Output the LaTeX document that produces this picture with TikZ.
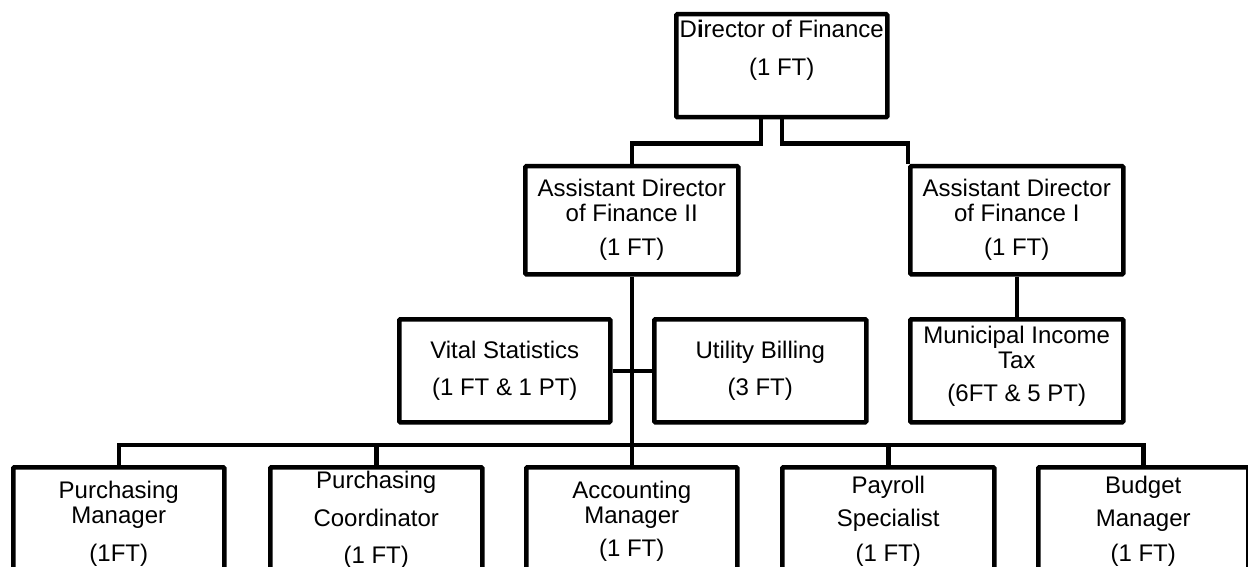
\documentclass[tikz,border=0pt]{standalone}
\usepackage{fontspec}
\setmainfont{Liberation Sans}

% box contents: height, width, top gap, lines
\newcommand\orgtext[4]{\parbox[t][#1][t]{#2}{\centering\vspace*{#3}#4}}

\begin{document}
\begin{tikzpicture}[x=1pt,y=-1pt,
  orgbox/.style={draw=black,line width=4.5pt,fill=white,inner sep=0pt,
    anchor=north west,rounded corners=1pt,
    font=\fontsize{24}{25}\selectfont},
  link/.style={draw=black,line width=4.5pt,line join=miter}]
\useasboundingbox (0,0) rectangle (1248,567);

% top level
\node[orgbox] (dir) at (674,12)
  {\orgtext{103pt}{211pt}{6pt}{D\textbf{i}rector of Finance\\[13pt](1 FT)}};

% assistant directors
\node[orgbox] (adf2) at (523,164)
  {\orgtext{108pt}{213pt}{13pt}{Assistant Director\\of Finance II\\[9pt](1 FT)}};
\node[orgbox] (adf1) at (908,164)
  {\orgtext{108pt}{213pt}{13pt}{Assistant Director\\of Finance I\\[9pt](1 FT)}};

% middle row
\node[orgbox] (vital) at (397,317)
  {\orgtext{103pt}{211pt}{22pt}{Vital Statistics\\[12pt](1 FT \& 1 PT)}};
\node[orgbox] (util) at (652,317)
  {\orgtext{103pt}{212pt}{22pt}{Utility Billing\\[12pt](3 FT)}};
\node[orgbox] (mit) at (908,317)
  {\orgtext{103pt}{213pt}{7pt}{Municipal Income\\Tax\\[8pt](6FT \& 5 PT)}};

% bottom row
\node[orgbox] (pm) at (11,465)
  {\orgtext{130pt}{211pt}{14pt}{Purchasing\\Manager\\[13pt](1FT)}};
\node[orgbox] (pc) at (268,465)
  {\orgtext{130pt}{212pt}{4pt}{Purchasing\\[13pt]Coordinator\\[12pt](1 FT)}};
\node[orgbox] (am) at (524,465)
  {\orgtext{130pt}{211pt}{14pt}{Accounting\\Manager\\[8pt](1 FT)}};
\node[orgbox] (ps) at (780,465)
  {\orgtext{130pt}{212pt}{9pt}{Payroll\\[8pt]Specialist\\[10pt](1 FT)}};
\node[orgbox] (bm) at (1036,465)
  {\orgtext{130pt}{210pt}{9pt}{Budget\\[8pt]Manager\\[10pt](1 FT)}};

% connectors
\draw[link] ([xshift=-21pt]dir.south) -- ++(0,24) -| (adf2.north);
\draw[link] (dir.south) -- ++(0,24) -| (adf1.north west);
\draw[link] (adf1.south) -- (mit.north);
\draw[link] (adf2.south) -- (am.north);
\draw[link] (vital.east) -- (util.west);
\draw[link] (pm.north) -- ++(0,-20) -| (bm.north);
\draw[link] (pc.north) -- ++(0,-20);
\draw[link] (ps.north) -- ++(0,-20);
\end{tikzpicture}
\end{document}
